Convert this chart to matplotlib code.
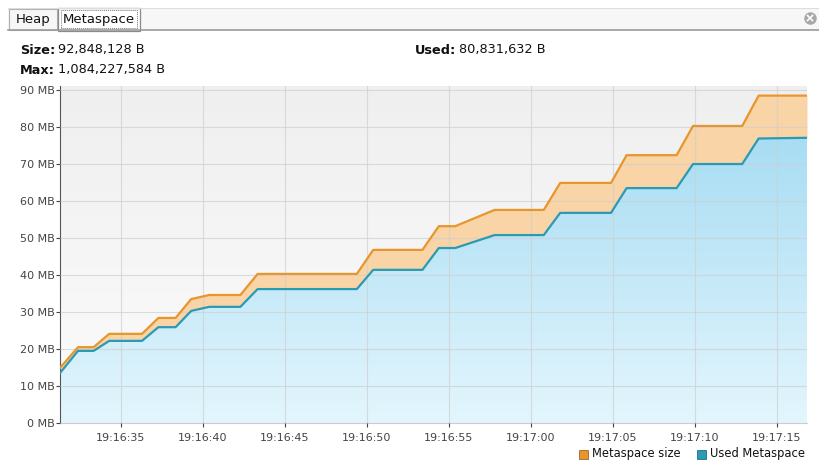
import matplotlib.pyplot as plt
import numpy as np
from matplotlib.patches import Rectangle
from matplotlib.ticker import FuncFormatter, MultipleLocator

# time in seconds after 19:16:00, memory in MB
t = [31.3, 32.4, 33.35, 34.3, 36.3, 37.3, 38.35, 39.3, 40.4, 42.3, 43.35, 49.4,
     50.4, 53.4, 54.4, 55.4, 57.8, 60.8, 61.8, 64.9, 65.85, 68.9, 69.9, 72.9,
     73.9, 76.85]
size_mb = [14.9, 20.5, 20.5, 24.1, 24.1, 28.4, 28.4, 33.5, 34.6, 34.6, 40.3, 40.3,
           46.8, 46.8, 53.2, 53.2, 57.6, 57.6, 64.9, 64.9, 72.4, 72.4, 80.3, 80.3,
           88.5, 88.5]
used_mb = [13.5, 19.5, 19.5, 22.2, 22.2, 25.9, 25.9, 30.3, 31.4, 31.4, 36.2, 36.2,
           41.4, 41.4, 47.3, 47.3, 50.8, 50.8, 56.8, 56.8, 63.5, 63.5, 70.0, 70.0,
           76.9, 77.1]

size_txt = "92,848,128 B"
max_txt = "1,084,227,584 B"
used_txt = "80,831,632 B"
tabs = ["Heap", "Metaspace"]

W, H = 819, 463
orange = '#e8952c'
teal = '#2b9ab3'

fig = plt.figure(figsize=(W / 100, H / 100), dpi=100)
fig.patch.set_facecolor('white')
renderer = fig.canvas.get_renderer()

def fx(x):
    return x / W

def fy(y):
    return 1 - y / H

def label_value(x, y, label, value):
    lab = fig.text(fx(x), fy(y), label, fontsize=9.3, weight='bold', va='center',
                   color='#111111')
    bb = lab.get_window_extent(renderer)
    fig.text(fx(bb.x1 + 3), fy(y), value, fontsize=9.3, va='center', color='#111111')

# tab bar
fig.add_artist(Rectangle((fx(8), fy(30)), fx(811), 22 / H, transform=fig.transFigure,
                         facecolor='#f7f7f7', edgecolor='none'))
fig.add_artist(plt.Line2D([fx(8), 1], [fy(30), fy(30)], transform=fig.transFigure,
                          color='#9a9a9a', lw=1.2))
fig.add_artist(plt.Line2D([fx(8), 1], [fy(8), fy(8)], transform=fig.transFigure,
                          color='#dddddd', lw=0.8))
fig.add_artist(Rectangle((fx(9), fy(30)), 48 / W, 21 / H, transform=fig.transFigure,
                         facecolor='#f6f6f6', edgecolor='#b0b0b0', lw=0.8))
fig.add_artist(Rectangle((fx(58), fy(31)), 82 / W, 23 / H, transform=fig.transFigure,
                         facecolor='#ffffff', edgecolor='#8a8a8a', lw=0.9))
fig.add_artist(Rectangle((fx(61), fy(28)), 76 / W, 18 / H, transform=fig.transFigure,
                         facecolor='none', edgecolor='#777777', lw=0.7, ls=(0, (1, 1))))
fig.text(fx(33), fy(19), tabs[0], ha='center', va='center', fontsize=9.5, color='#111111')
fig.text(fx(99), fy(19), tabs[1], ha='center', va='center', fontsize=9.5, color='#111111')
# close icon
fig.add_artist(plt.Line2D([fx(810)], [fy(18)], transform=fig.transFigure, marker='o',
                          markersize=9, markerfacecolor='#a8a8a8', markeredgecolor='none'))
for d in (1, -1):
    fig.add_artist(plt.Line2D([fx(807.5), fx(812.5)], [fy(18 - 2.5 * d), fy(18 + 2.5 * d)],
                              transform=fig.transFigure, color='white', lw=1.2))

# header info
label_value(20, 50, "Size:", size_txt)
label_value(20, 70, "Max:", max_txt)
label_value(415, 50, "Used:", used_txt)

ax = fig.add_axes([fx(60), 1 - 423 / H, (807 - 60) / W, (423 - 86) / H])
x0, x1 = t[0], t[-1]
y0, y1 = 0, 91.1
ax.set_xlim(x0, x1)
ax.set_ylim(y0, y1)

# background gradient
bg = np.linspace(0, 1, 256).reshape(-1, 1)
ax.imshow(bg, cmap=plt.matplotlib.colors.LinearSegmentedColormap.from_list(
    'bg', ['#fcfcfc', '#efefef']), extent=[x0, x1, y0, y1], origin='lower',
    aspect='auto', zorder=0)

ax.fill_between(t, used_mb, size_mb, color='#f8d4a6', lw=0, zorder=2)
poly = ax.fill_between(t, 0, used_mb, facecolor='none', lw=0, zorder=2)
grad = ax.imshow(bg, cmap=plt.matplotlib.colors.LinearSegmentedColormap.from_list(
    'blue', ['#e3f6fd', '#a6dcf3']), extent=[x0, x1, 0, 80], origin='lower',
    aspect='auto', zorder=2)
grad.set_clip_path(poly.get_paths()[0], transform=ax.transData)

ax.plot(t, size_mb, color=orange, lw=1.6, zorder=4)
ax.plot(t, used_mb, color=teal, lw=1.6, zorder=4)

ax.set_xticks(np.arange(35, 76, 5))
ax.xaxis.set_major_formatter(FuncFormatter(lambda v, p: "19:%02d:%02d" % (16 + int(v) // 60, int(v) % 60)))
ax.yaxis.set_major_locator(MultipleLocator(10))
ax.yaxis.set_major_formatter(FuncFormatter(lambda v, p: "%d MB" % v))
ax.grid(True, color='#cfcfcf', lw=0.8, zorder=1)
ax.set_axisbelow(False)
for gl in ax.get_xgridlines() + ax.get_ygridlines():
    gl.set_zorder(3)
    gl.set_alpha(0.7)

ax.tick_params(axis='both', labelsize=8, colors='#444444', length=3, width=0.8)
ax.tick_params(axis='x', pad=4)
ax.tick_params(axis='y', pad=1)
for s in ['top', 'right']:
    ax.spines[s].set_visible(False)
ax.spines['left'].set_color('#555555')
ax.spines['bottom'].set_color('#cccccc')

# legend
fig.add_artist(Rectangle((fx(579), fy(459)), 9 / W, 9 / H, transform=fig.transFigure,
                         facecolor=orange, edgecolor='#9a6a2a', lw=0.6))
fig.text(fx(592), fy(454), "Metaspace size", fontsize=8.3, va='center', color='#111111')
fig.add_artist(Rectangle((fx(697), fy(459)), 9 / W, 9 / H, transform=fig.transFigure,
                         facecolor=teal, edgecolor='#1f6f84', lw=0.6))
fig.text(fx(710), fy(454), "Used Metaspace", fontsize=8.3, va='center', color='#111111')

plt.savefig("out.png", dpi=100)
